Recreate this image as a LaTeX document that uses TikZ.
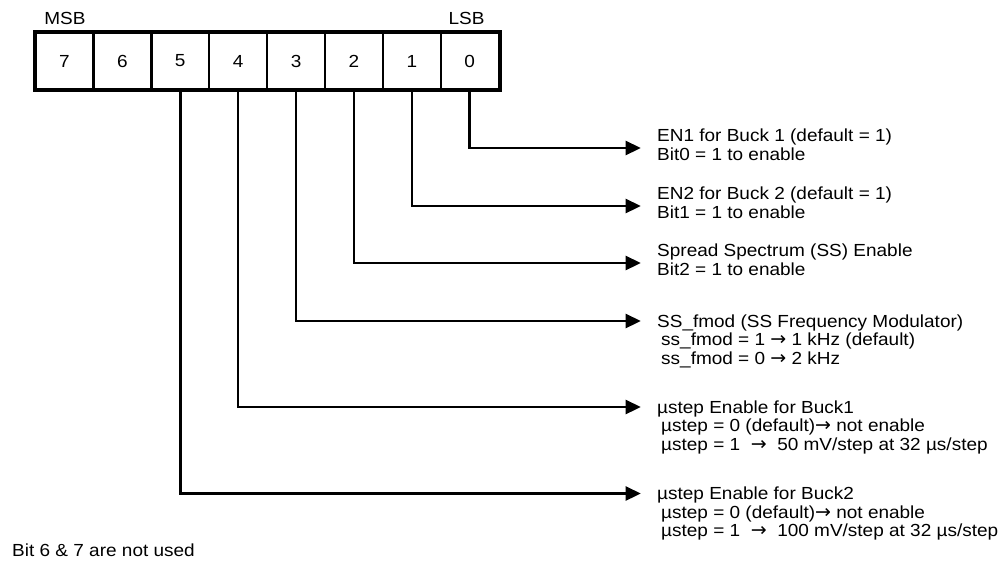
\documentclass[tikz,border=0pt]{standalone}
\usepackage{fontspec}
\setmainfont{Liberation Sans}[FakeStretch=1.085]
\newfontfamily\arrfont{DejaVu Sans}
\newcommand\rarr{{\arrfont\fontsize{19}{18.4}\selectfont →}}
\usetikzlibrary{arrows.meta}
\begin{document}
\begin{tikzpicture}[x=1pt,y=-1pt,
  txt/.style={font=\fontsize{17.5}{18.4}\selectfont},
  cell/.style={draw, line width=2.4pt, minimum width=57.9pt, minimum height=57pt, inner sep=0pt, txt},
  conn/.style={line width=2.6pt, -{Triangle[length=15pt,width=14pt]}},
  lbl/.style={anchor=base west, inner sep=0pt, txt},
]
\useasboundingbox (0,0) rectangle (1007,562);
\fill[white] (0,0) rectangle (1007,562);
% register cells
\foreach \i in {0,...,7} {
  \node[cell] (b\i) at ({35.5+57.9*(7-\i)+28.95}, 61) {\i};
}
\draw[line width=3.3pt] (b7.north west) rectangle (b0.south east);
\node[lbl, anchor=base] (msb) at (65, 24) {MSB};
\node[lbl, anchor=base] (lsb) at (466.5, 24) {LSB};
% arrow end points
\coordinate (a0) at (640.7,148);
\coordinate (a1) at (640.7,206);
\coordinate (a2) at (640.7,263);
\coordinate (a3) at (640.7,321);
\coordinate (a4) at (640.7,407);
\coordinate (a5) at (640.7,493.5);
\foreach \i in {0,...,5} {
  \draw[conn] (b\i.south) |- (a\i);
}
% descriptions
\node[lbl] (t0) at (657, 141.7) {\begin{tabular}[t]{@{}l@{}}EN1 for Buck 1 (default = 1)\\Bit0 = 1 to enable\end{tabular}};
\node[lbl] (t1) at (657, 199.7) {\begin{tabular}[t]{@{}l@{}}EN2 for Buck 2 (default = 1)\\Bit1 = 1 to enable\end{tabular}};
\node[lbl] (t2) at (657, 256.7) {\begin{tabular}[t]{@{}l@{}}Spread Spectrum (SS) Enable\\Bit2 = 1 to enable\end{tabular}};
\node[lbl] (t3) at (657, 327.3) {\begin{tabular}[t]{@{}l@{}}SS\_fmod (SS Frequency Modulator)\\\hspace{4pt}ss\_fmod = 1 \rarr{} 1 kHz (default)\\\hspace{4pt}ss\_fmod = 0 \rarr{} 2 kHz\end{tabular}};
\node[lbl] (t4) at (657, 413.3) {\begin{tabular}[t]{@{}l@{}}µstep Enable for Buck1\\\hspace{4pt}µstep = 0 (default)\rarr{} not enable\\\hspace{4pt}µstep = 1 \ \rarr{} \ 50 mV/step at 32 µs/step\end{tabular}};
\node[lbl] (t5) at (657, 499.8) {\begin{tabular}[t]{@{}l@{}}µstep Enable for Buck2\\\hspace{4pt}µstep = 0 (default)\rarr{} not enable\\\hspace{4pt}µstep = 1 \ \rarr{} \ 100 mV/step at 32 µs/step\end{tabular}};
\node[lbl] (note) at (12, 556.5) {Bit 6 \& 7 are not used};
\end{tikzpicture}
\end{document}
